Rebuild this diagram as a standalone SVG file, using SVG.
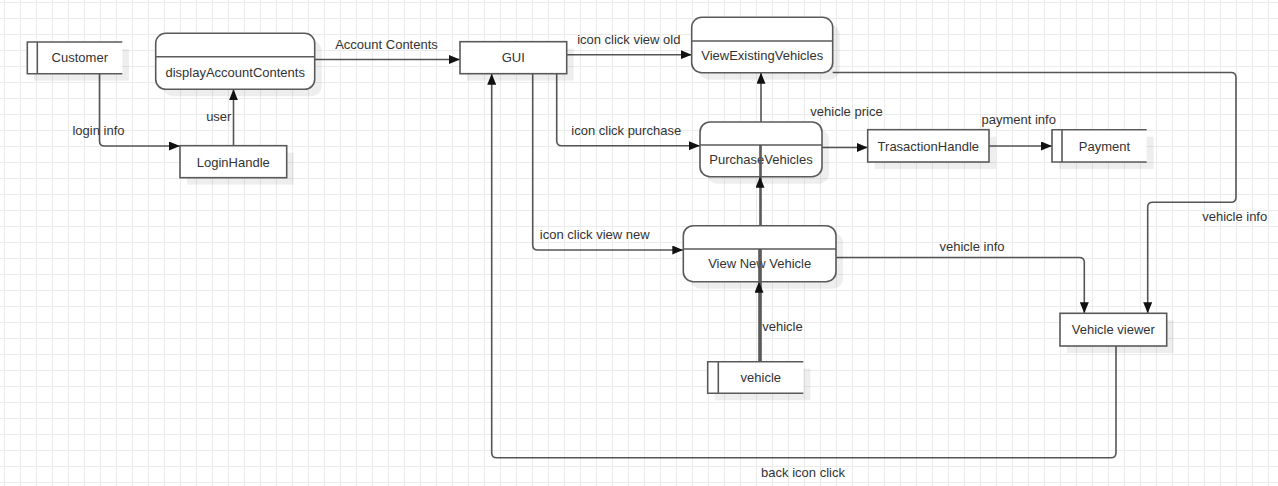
<svg xmlns="http://www.w3.org/2000/svg" width="1278" height="486" viewBox="0 0 1278 486">
<style>
.box{fill:#fff;stroke:#5a5a5a;stroke-width:1.6}
.shadow{fill:#000;fill-opacity:0.065}
.ent{fill:none;stroke:#5a5a5a;stroke-width:1.6}
.div{stroke:#5a5a5a;stroke-width:1.6}
.t{font-family:"Liberation Sans",Arial,sans-serif;font-size:13px;fill:#333;text-anchor:middle}
.c{fill:none;stroke:#555;stroke-width:1.6}
</style>
<defs>
<pattern id="grid" x="4" y="2" width="16" height="16" patternUnits="userSpaceOnUse">
<path d="M0 0.5 H16 M0.5 0 V16" fill="none" stroke="#ebebeb" stroke-width="1"/>
</pattern>
<marker id="arr" viewBox="0 0 11 9" refX="11" refY="4.5" markerWidth="11" markerHeight="9" markerUnits="userSpaceOnUse" orient="auto">
<path d="M0 0 L11 4.5 L0 9 Z" fill="#111"/>
</marker>
</defs>
<rect width="1278" height="486" fill="#fff"/>
<rect width="1278" height="486" fill="url(#grid)"/>

<g id="connectors">
<path class="c" d="M99.5 74 V141 Q99.5 146 104.5 146 H180" marker-end="url(#arr)"/>
<path class="c" d="M233.5 145.7 V89.3" marker-end="url(#arr)"/>
<path class="c" d="M314.7 59.5 H460" marker-end="url(#arr)"/>
<path class="c" d="M566.7 54.7 H691.7" marker-end="url(#arr)"/>
<path class="c" d="M556.7 73.7 V140.7 Q556.7 145.7 561.7 145.7 H700" marker-end="url(#arr)"/>
<path class="c" d="M532.7 73.7 V245 Q532.7 250 537.7 250 H683.3" marker-end="url(#arr)"/>
<path class="c" d="M822 147.5 H867.7" marker-end="url(#arr)"/>
<path class="c" d="M989 146 H1052" marker-end="url(#arr)"/>
<path class="c" d="M761 361.7 V72.7" marker-end="url(#arr)"/>
<path class="c" d="M760 361.7 V176.7" marker-end="url(#arr)"/>
<path class="c" d="M759 361.7 V281.7" marker-end="url(#arr)"/>
<path class="c" d="M836 257.5 H1079.3 Q1084.3 257.5 1084.3 262.5 V313.3" marker-end="url(#arr)"/>
<path class="c" d="M832.7 72.5 H1231 Q1236 72.5 1236 77.5 V197.3 Q1236 202.3 1231 202.3 H1152.7 Q1147.7 202.3 1147.7 207.3 V313.3" marker-end="url(#arr)"/>
<path class="c" d="M1116 346 V452.7 Q1116 457.7 1111 457.7 H496.7 Q491.7 457.7 491.7 452.7 V73.7" marker-end="url(#arr)"/>
<text class="t" x="98.5" y="135">login info</text>
<text class="t" x="218.8" y="120.5">user</text>
<text class="t" x="386.5" y="48.5">Account Contents</text>
<text class="t" x="628.8" y="44">icon click view old</text>
<text class="t" x="626.2" y="134.5">icon click purchase</text>
<text class="t" x="846.5" y="115.5">vehicle price</text>
<text class="t" x="1018.7" y="123.5">payment info</text>
<text class="t" x="594.7" y="239">icon click view new</text>
<text class="t" x="782.5" y="331">vehicle</text>
<text class="t" x="972" y="250.5">vehicle info</text>
<text class="t" x="1234.7" y="221">vehicle info</text>
<text class="t" x="803" y="477">back icon click</text>
</g>

<g id="customer">
<rect class="shadow" x="34" y="49" width="95" height="31.7"/>
<rect x="27.3" y="42" width="95" height="31.7" fill="#fff"/>
<path class="ent" d="M122.3 42 H27.3 V73.7 H122.3 M37.3 42 V73.7"/>
<text class="t" x="79.8" y="62">Customer</text>
</g>

<g id="displayAccountContents">
<rect class="shadow" x="162.7" y="40.3" width="159" height="56" rx="10"/>
<rect class="box" x="155.7" y="33.3" width="159" height="56" rx="10"/>
<line class="div" x1="155.7" y1="56.7" x2="314.7" y2="56.7"/>
<text class="t" x="235.2" y="77">displayAccountContents</text>
</g>

<g id="loginHandle">
<rect class="shadow" x="187" y="152.7" width="106.7" height="32"/>
<rect class="box" x="180" y="145.7" width="106.7" height="32"/>
<text class="t" x="233.3" y="166.5">LoginHandle</text>
</g>

<g id="gui">
<rect class="shadow" x="467" y="48.7" width="106.7" height="32"/>
<rect class="box" x="460" y="41.7" width="106.7" height="32"/>
<text class="t" x="513.3" y="62">GUI</text>
</g>

<g id="viewExistingVehicles">
<rect class="shadow" x="698.7" y="24.3" width="141" height="55.4" rx="10"/>
<rect class="box" x="691.7" y="17.3" width="141" height="55.4" rx="10"/>
<line class="div" x1="691.7" y1="41" x2="832.7" y2="41"/>
<text class="t" x="762.2" y="60">ViewExistingVehicles</text>
</g>

<g id="purchaseVehicles">
<rect class="shadow" x="707" y="129" width="122" height="54.7" rx="10"/>
<rect class="box" x="700" y="122" width="122" height="54.7" rx="10"/>
<line class="div" x1="700" y1="145" x2="822" y2="145"/>
<text class="t" x="761" y="164">PurchaseVehicles</text>
</g>

<g id="trasactionHandle">
<rect class="shadow" x="874.7" y="136.7" width="121.3" height="32.3"/>
<rect class="box" x="867.7" y="129.7" width="121.3" height="32.3"/>
<text class="t" x="928.3" y="150.5">TrasactionHandle</text>
</g>

<g id="payment">
<rect class="shadow" x="1059" y="136.7" width="94.7" height="32.3"/>
<rect x="1052" y="129.7" width="94.7" height="32.3" fill="#fff"/>
<path class="ent" d="M1146.7 129.7 H1052 V162 H1146.7 M1062 129.7 V162"/>
<text class="t" x="1104.4" y="150.5">Payment</text>
</g>

<g id="viewNewVehicle">
<rect class="shadow" x="690.3" y="232.7" width="152.7" height="56" rx="10"/>
<rect class="box" x="683.3" y="225.7" width="152.7" height="56" rx="10"/>
<line class="div" x1="683.3" y1="249" x2="836" y2="249"/>
<text class="t" x="759.7" y="268">View New Vehicle</text>
</g>

<g id="vehicle">
<rect class="shadow" x="714.7" y="368.7" width="95.6" height="31.6"/>
<rect x="707.7" y="361.7" width="95.6" height="31.6" fill="#fff"/>
<path class="ent" d="M803.3 361.7 H707.7 V393.3 H803.3 M718.3 361.7 V393.3"/>
<text class="t" x="760.8" y="382">vehicle</text>
</g>

<g id="vehicleViewer">
<rect class="shadow" x="1067" y="320.3" width="106.7" height="32.7"/>
<rect class="box" x="1060" y="313.3" width="106.7" height="32.7"/>
<text class="t" x="1113.3" y="334">Vehicle viewer</text>
</g>

<g id="connector-overlaps">
<line class="c" x1="759" y1="281.7" x2="759" y2="249"/>
<line class="c" x1="760" y1="176.7" x2="760" y2="145"/>
<line class="c" x1="761" y1="176.7" x2="761" y2="145"/>
<line class="c" x1="761" y1="281.7" x2="761" y2="249"/>
<line class="c" x1="760" y1="281.7" x2="760" y2="249"/>
</g>
</svg>
